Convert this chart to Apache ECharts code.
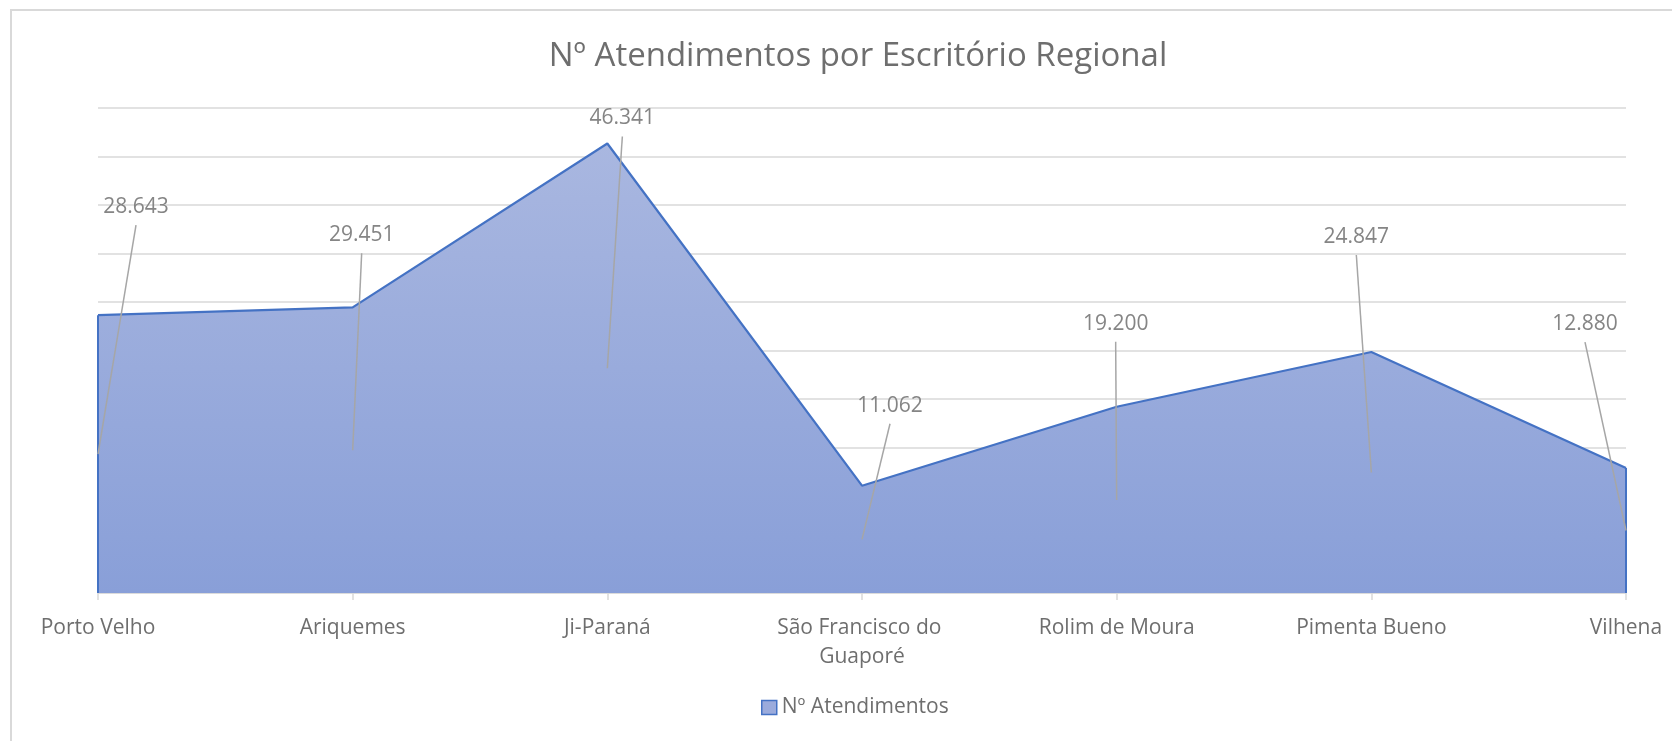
<!DOCTYPE html>
<html>
<head>
<meta charset="utf-8">
<script src="https://cdn.jsdelivr.net/npm/echarts@6/dist/echarts.min.js"></script>
<style>
  html, body { margin: 0; padding: 0; background: #ffffff; }
  #chart { width: 1672px; height: 741px; }
</style>
</head>
<body>
<div id="chart"></div>
<script>
// ---- data ----
const titleText = 'Nº Atendimentos por Escritório Regional';
const seriesName = 'Nº Atendimentos';
const categories = ['Porto Velho', 'Ariquemes', 'Ji-Paraná', 'São Francisco do Guaporé', 'Rolim de Moura', 'Pimenta Bueno', 'Vilhena'];
const atendimentos = [28643, 29451, 46341, 11062, 19200, 24847, 12880];
const yMin = 0;
const yMax = 50000;
const yStep = 5000;

// ---- layout constants (label nudges, in px, relative to each point) ----
const labelNudge = [[38, -108], [9, -72], [15, -25], [28, -80], [-1, -83], [-15, -115], [-41, -144]];

function fmt(v) {
  return String(v).replace(/\B(?=(\d{3})+(?!\d))/g, '.');
}

const FONT = '"Open Sans", "Noto Sans", sans-serif';
const chart = echarts.init(document.getElementById('chart'), null, { renderer: 'canvas' });

const option = {
  backgroundColor: '#ffffff',
  animation: false,
  title: {
    text: titleText,
    left: 853,
    top: 35,
    textAlign: 'center',
    textStyle: { fontFamily: FONT, fontSize: 33, fontWeight: 'normal', color: '#6e6e6e' }
  },
  legend: {
    data: [{ name: seriesName, icon: 'rect', itemStyle: { color: '#9BABDC', borderColor: '#4472C4', borderWidth: 1.5 } }],
    left: 756,
    top: 692,
    itemWidth: 15,
    itemHeight: 14,
    textStyle: { fontFamily: FONT, fontSize: 21, color: '#6e6e6e' }
  },
  grid: { left: 98, right: 46, top: 108, bottom: 148, containLabel: false, outerBoundsMode: 'none' },
  xAxis: {
    type: 'category',
    data: categories,
    boundaryGap: false,
    axisLine: { show: true, lineStyle: { color: '#D9D9D9', width: 1.5 } },
    axisTick: { show: true, length: 7, lineStyle: { color: '#D9D9D9', width: 1.5 } },
    axisLabel: {
      interval: 0,
      margin: 21,
      fontFamily: FONT,
      fontSize: 21,
      color: '#6e6e6e',
      lineHeight: 29,
      width: 200,
      overflow: 'break',
      hideOverlap: false
    },
    splitLine: { show: false }
  },
  yAxis: {
    type: 'value',
    min: yMin,
    max: yMax,
    interval: yStep,
    axisLine: { show: false },
    axisTick: { show: false },
    axisLabel: { show: false },
    splitLine: { show: true, lineStyle: { color: '#D9D9D9', width: 1.5 } }
  },
  graphic: [{
    type: 'rect',
    silent: true,
    z: -10,
    shape: { x: 11, y: 10, width: 1700, height: 800 },
    style: { fill: 'none', stroke: '#D9D9D9', lineWidth: 2 }
  }],
  series: [
    {
      name: seriesName,
      type: 'line',
      data: atendimentos,
      symbol: 'none',
      lineStyle: { color: '#4472C4', width: 2.2 },
      itemStyle: { color: '#9BABDC' },
      areaStyle: {
        opacity: 1,
        color: new echarts.graphic.LinearGradient(0, 0, 0, 1, [
          { offset: 0, color: '#A9B7E0' },
          { offset: 1, color: '#899FD8' }
        ])
      },
      z: 2
    },
    {
      name: 'labels',
      type: 'custom',
      data: atendimentos.map((v, i) => [i, v]),
      z: 5,
      clip: false,
      silent: true,
      renderItem: function (params, api) {
        const i = api.value(0);
        const v = api.value(1);
        const p = api.coord([i, v]);
        const mid = api.coord([i, v / 2]);
        const base = api.coord([i, yMin]);
        const n = labelNudge[i] || [0, -30];
        const lx = p[0] + n[0];
        const ly = p[1] + n[1];
        const children = [
          {
            type: 'line',
            shape: { x1: lx, y1: ly + 18, x2: mid[0], y2: mid[1] },
            style: { stroke: '#A6A6A6', lineWidth: 1.5 }
          },
          {
            type: 'text',
            style: {
              x: lx, y: ly,
              text: fmt(v),
              align: 'center',
              verticalAlign: 'middle',
              fontFamily: FONT,
              fontSize: 21,
              fill: '#858585'
            }
          }
        ];
        if (i === 0 || i === categories.length - 1) {
          children.unshift({
            type: 'line',
            shape: { x1: p[0], y1: p[1], x2: base[0], y2: base[1] },
            style: { stroke: '#4472C4', lineWidth: 2 }
          });
        }
        return { type: 'group', children: children };
      }
    }
  ]
};

chart.setOption(option);
</script>
</body>
</html>
